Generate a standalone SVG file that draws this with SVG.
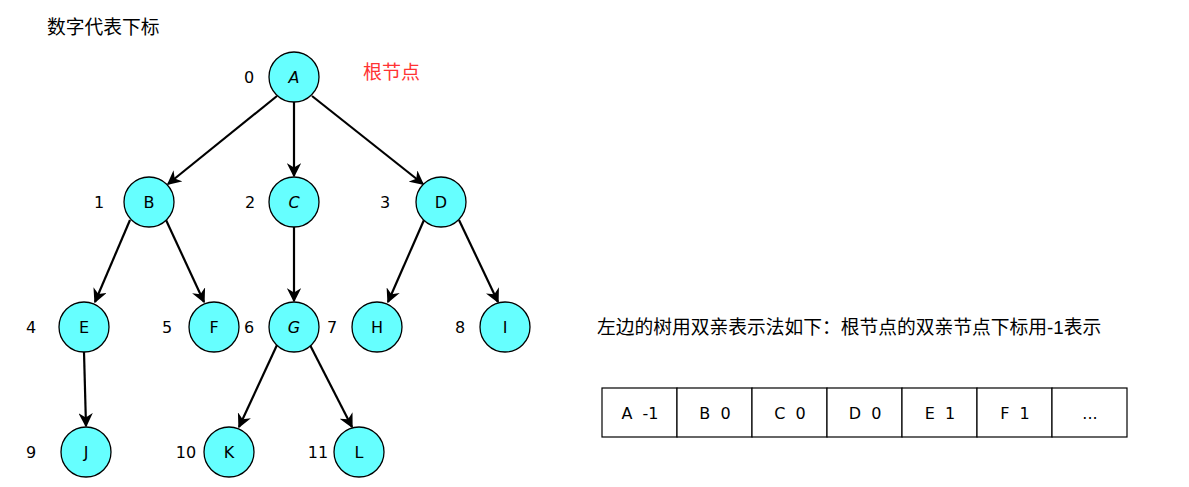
<svg xmlns="http://www.w3.org/2000/svg" width="1189" height="487" viewBox="0 0 1189 487">
<style>
.n circle{fill:#66FFFF;stroke:#000;stroke-width:1.3}
.n text,.lbl,.cell text{font-family:"Comic Sans MS","DejaVu Sans","Liberation Sans",sans-serif;font-size:16px;fill:#000;text-anchor:middle;dominant-baseline:central}
.cn{font-family:"Liberation Sans","Noto Sans CJK SC",sans-serif;font-size:18.75px;fill:#000}
.e{stroke:#000;stroke-width:2.2;fill:none;marker-end:url(#ah)}
.cell rect{fill:#fff;stroke:#000;stroke-width:1.2}
</style>
<defs>
<marker id="ah" viewBox="0 0 10 10" refX="9" refY="5" markerWidth="6.5" markerHeight="6.5" orient="auto" markerUnits="strokeWidth">
<path d="M0,0 L10,5 L0,10 L3,5 Z" fill="#000"/>
</marker>
</defs>
<rect width="1189" height="487" fill="#fff"/>
<text class="cn" x="47" y="34">数字代表下标</text>
<text class="cn" x="363" y="79" style="fill:#FF3333;font-size:19px">根节点</text>
<g id="connectors">
<line class="e" x1="277" y1="96" x2="168" y2="184"/>
<line class="e" x1="294" y1="102" x2="294" y2="176"/>
<line class="e" x1="312" y1="96" x2="423" y2="184"/>
<line class="e" x1="130" y1="220" x2="95" y2="302"/>
<line class="e" x1="166" y1="220" x2="204" y2="302"/>
<line class="e" x1="294" y1="227" x2="294" y2="301"/>
<line class="e" x1="424" y1="220" x2="388" y2="302"/>
<line class="e" x1="459" y1="220" x2="498" y2="302"/>
<line class="e" x1="84" y1="352" x2="86" y2="426"/>
<line class="e" x1="277" y1="345" x2="239" y2="427"/>
<line class="e" x1="310" y1="345" x2="352" y2="427"/>
</g>
<g id="A" class="n"><circle cx="294" cy="77" r="25"/><text x="294" y="77" font-style="italic">A</text></g>
<g id="B" class="n"><circle cx="149" cy="202" r="25"/><text x="149" y="202">B</text></g>
<g id="C" class="n"><circle cx="294" cy="202" r="25"/><text x="294" y="202" font-style="italic">C</text></g>
<g id="D" class="n"><circle cx="441" cy="202" r="25"/><text x="441" y="202">D</text></g>
<g id="E" class="n"><circle cx="84" cy="327" r="25"/><text x="84" y="327">E</text></g>
<g id="F" class="n"><circle cx="214" cy="327" r="25"/><text x="214" y="327">F</text></g>
<g id="G" class="n"><circle cx="294" cy="327" r="25"/><text x="294" y="327" font-style="italic">G</text></g>
<g id="H" class="n"><circle cx="377" cy="327" r="25"/><text x="377" y="327">H</text></g>
<g id="I" class="n"><circle cx="505" cy="327" r="25"/><text x="505" y="327">I</text></g>
<g id="J" class="n"><circle cx="86" cy="452" r="25"/><text x="86" y="452">J</text></g>
<g id="K" class="n"><circle cx="229" cy="452" r="25"/><text x="229" y="452">K</text></g>
<g id="L" class="n"><circle cx="359" cy="452" r="25"/><text x="359" y="452">L</text></g>
<g id="indices">
<text class="lbl" x="249" y="77">0</text>
<text class="lbl" x="99" y="202">1</text>
<text class="lbl" x="250" y="202">2</text>
<text class="lbl" x="385" y="202">3</text>
<text class="lbl" x="31" y="327">4</text>
<text class="lbl" x="167" y="327">5</text>
<text class="lbl" x="249" y="327">6</text>
<text class="lbl" x="332" y="327">7</text>
<text class="lbl" x="460" y="327">8</text>
<text class="lbl" x="31" y="452">9</text>
<text class="lbl" x="186" y="452">10</text>
<text class="lbl" x="318" y="452">11</text>
</g>
<text class="cn" x="597" y="334">左边的树用双亲表示法如下：根节点的双亲节点下标用-1表示</text>
<g id="table" class="cell">
<rect x="602" y="388" width="75" height="49"/><text x="640" y="413" xml:space="preserve">A  -1</text>
<rect x="677" y="388" width="75" height="49"/><text x="715" y="413" xml:space="preserve">B  0</text>
<rect x="752" y="388" width="75" height="49"/><text x="790" y="413" xml:space="preserve">C  0</text>
<rect x="827" y="388" width="75" height="49"/><text x="865" y="413" xml:space="preserve">D  0</text>
<rect x="902" y="388" width="75" height="49"/><text x="940" y="413" xml:space="preserve">E  1</text>
<rect x="977" y="388" width="75" height="49"/><text x="1015" y="413" xml:space="preserve">F  1</text>
<rect x="1052" y="388" width="75" height="49"/><text x="1090" y="413">...</text>
</g>
</svg>
